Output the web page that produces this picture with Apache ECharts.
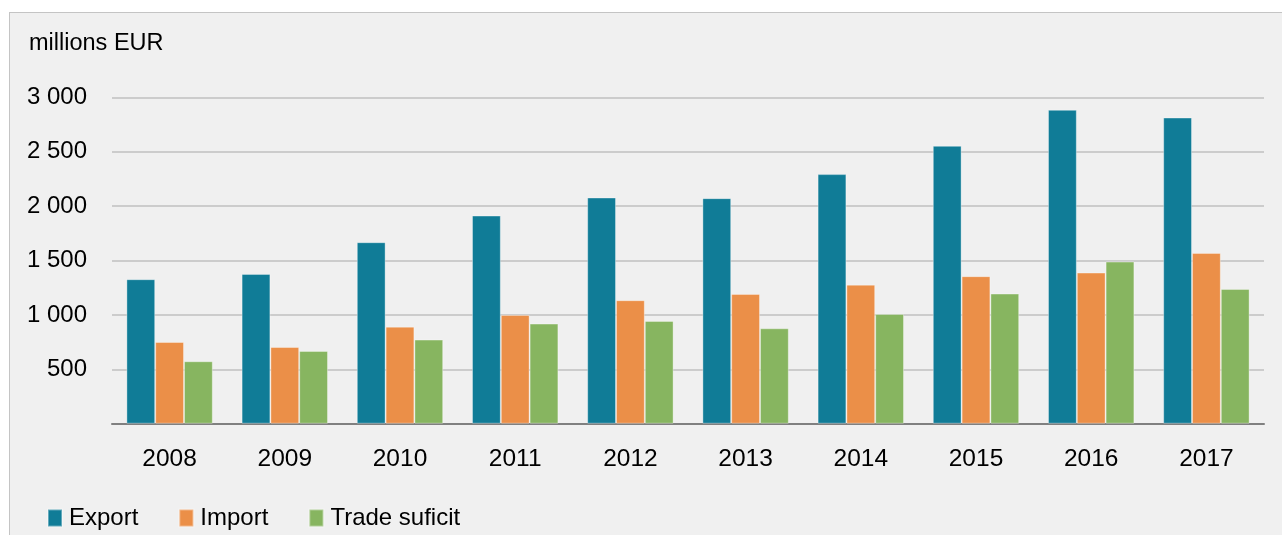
<!DOCTYPE html>
<html>
<head>
<meta charset="utf-8">
<script src="https://cdn.jsdelivr.net/npm/echarts@6/dist/echarts.min.js"></script>
<style>
  html, body { margin: 0; padding: 0; background: #ffffff; }
  #bg { position: absolute; left: 9px; top: 12px; width: 1300px; height: 600px; background: #f0f0f0; border: 1.5px solid #c4c4c4; }
  #chart { position: absolute; left: 0; top: 0; width: 1282px; height: 535px; }
</style>
</head>
<body>
<div id="bg"></div>
<div id="chart"></div>
<script>
const categories = ['2008','2009','2010','2011','2012','2013','2014','2015','2016','2017'];
const exportValues = [1328, 1377, 1668, 1913, 2079, 2073, 2294, 2554, 2885, 2814];
const importValues = [751, 705, 892, 1000, 1135, 1193, 1278, 1356, 1389, 1570];
const tradeValues  = [574, 669, 773, 920, 945, 877, 1009, 1196, 1490, 1239];
const seriesNames = ['Export', 'Import', 'Trade suficit'];
const yTicks = [0, 500, 1000, 1500, 2000, 2500, 3000];

const colors = ['#107c97', '#eb8f48', '#87b560'];

function fmt(v) {
  if (v === 0) return '';
  if (v >= 1000) return Math.floor(v / 1000) + ' ' + String(v % 1000).padStart(3, '0');
  return String(v);
}

const FONT = 'Liberation Sans, Arial, sans-serif';
const chart = echarts.init(document.getElementById('chart'), null, { renderer: 'canvas' });
const barStyle = (c) => ({ color: c, borderColor: 'rgba(255,255,255,0.35)', borderWidth: 1 });

chart.setOption({
  animation: false,
  backgroundColor: 'transparent',
  textStyle: { fontFamily: FONT, color: '#000' },
  title: {
    text: 'millions EUR',
    left: 29, top: 32,
    padding: 0,
    textStyle: { fontFamily: FONT, fontSize: 23.5, fontWeight: 'normal', color: '#000' }
  },
  legend: {
    data: seriesNames,
    left: 47, top: 506,
    padding: 0,
    itemWidth: 14, itemHeight: 17, itemGap: 40,
    icon: 'rect',
    textStyle: { fontFamily: FONT, fontSize: 24, color: '#000', padding: [0, 0, 0, 2] }
  },
  grid: { left: 112, right: 18, top: 97.3, bottom: 111.3, containLabel: false },
  xAxis: {
    type: 'category',
    data: categories,
    axisLine: { show: true, lineStyle: { color: '#808080', width: 2 } },
    axisTick: { show: false },
    axisLabel: { margin: 23, fontFamily: FONT, fontSize: 24.5, color: '#000' }
  },
  yAxis: {
    type: 'value',
    min: yTicks[0], max: yTicks[yTicks.length - 1], interval: 500,
    axisLine: { show: false },
    axisTick: { show: false },
    splitLine: { show: true, lineStyle: { color: '#c0c0c0', width: 1.5 } },
    axisLabel: { margin: 25, fontFamily: FONT, fontSize: 24, color: '#000', formatter: fmt }
  },
  series: [
    { name: seriesNames[0], type: 'bar', data: exportValues, itemStyle: barStyle(colors[0]), barGap: '0%', barCategoryGap: '25%' },
    { name: seriesNames[1], type: 'bar', data: importValues, itemStyle: barStyle(colors[1]), barGap: '0%', barCategoryGap: '25%' },
    { name: seriesNames[2], type: 'bar', data: tradeValues, itemStyle: barStyle(colors[2]), barGap: '0%', barCategoryGap: '25%' }
  ]
});
</script>
</body>
</html>
